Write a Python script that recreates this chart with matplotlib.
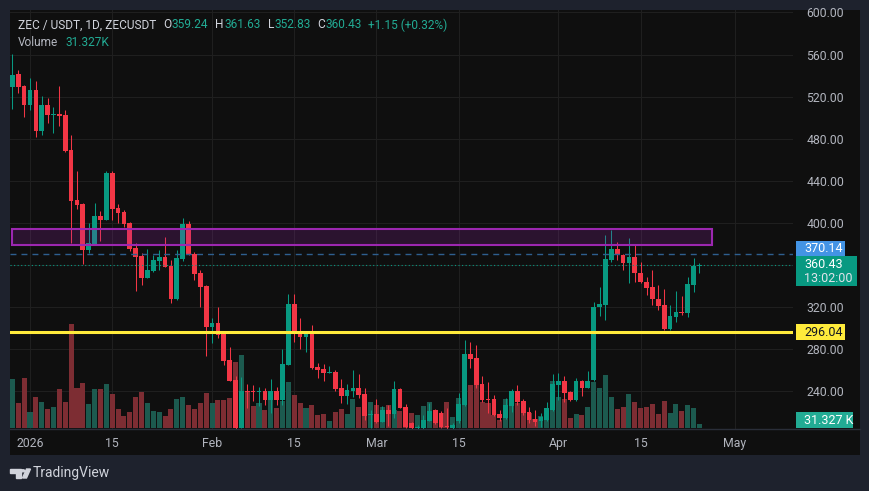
import numpy as np
import pandas as pd
import matplotlib
matplotlib.use('Agg')
import matplotlib.pyplot as plt
import matplotlib.dates as mdates
from matplotlib.patches import Rectangle, Polygon, Circle

plt.rcParams['font.family'] = ['Roboto', 'DejaVu Sans']

# ZEC/USDT daily candles, 2025-12-29 .. 2026-04-25
first_day = '2025-12-29'
opens = [529.4, 541.5, 530.1, 512.1, 526.3, 487.7, 512.1, 502.3, 503.5, 502.6,
         469.3, 421.8, 418.0, 374.4, 380.1, 406.6, 402.8, 447.2, 414.0, 410.4,
         400.0, 376.3, 368.7, 348.2, 354.7, 364.2, 367.7, 359.2, 327.8, 365.8,
         399.0, 370.6, 352.8, 340.2, 301.5, 304.7, 294.6, 269.9, 250.8, 205.6,
         240.5, 240.3, 239.7, 240.0, 232.3, 240.0, 231.5, 265.2, 323.1, 296.5,
         292.0, 295.7, 263.5, 261.4, 257.1, 258.5, 243.3, 235.7, 240.8, 243.3,
         237.6, 218.0, 218.6, 211.0, 222.4, 218.6, 242.4, 225.3, 209.8, 205.3,
         205.0, 212.3, 222.4, 219.3, 207.0, 205.5, 211.6, 227.2, 275.6, 271.8,
         247.1, 232.9, 232.9, 218.6, 214.8, 226.2, 240.5, 230.9, 220.5, 213.9,
         211.6, 212.9, 222.4, 246.2, 249.9, 239.5, 231.9, 249.9, 243.6, 250.4,
         320.0, 322.1, 364.9, 375.0, 369.6, 361.7, 367.4, 352.8, 344.3, 339.2,
         327.8, 322.1, 299.3, 311.0, 315.2, 314.8, 341.4, 359.24]
highs = [560.5, 545.3, 531.5, 537.4, 534.9, 520.6, 518.4, 509.9, 530.4, 507.3,
         483.6, 449.4, 418.7, 400.3, 418.7, 411.7, 449.4, 449.4, 418.0, 412.3,
         401.2, 380.7, 371.2, 375.3, 369.6, 374.4, 387.0, 364.9, 374.4, 404.5,
         401.9, 372.7, 355.4, 341.1, 309.4, 320.5, 295.2, 282.5, 254.6, 253.7,
         247.0, 246.2, 244.0, 243.4, 251.9, 243.8, 280.3, 332.6, 332.6, 309.8,
         296.2, 303.1, 267.0, 266.0, 264.2, 260.4, 251.9, 247.1, 260.4, 256.6,
         243.3, 222.4, 232.9, 225.9, 227.5, 249.9, 243.0, 228.1, 211.0, 208.5,
         217.7, 229.4, 223.0, 221.0, 224.0, 210.0, 238.2, 288.9, 287.0, 284.1,
         254.7, 249.0, 236.7, 222.4, 233.5, 242.0, 246.2, 232.9, 225.3, 222.4,
         219.6, 230.0, 256.6, 257.6, 254.7, 240.5, 252.8, 251.0, 259.5, 324.7,
         338.9, 388.6, 393.4, 381.7, 371.0, 385.5, 380.1, 363.3, 349.0, 355.4,
         341.1, 337.3, 322.1, 335.4, 330.7, 349.0, 366.5, 361.63]
lows = [508.3, 523.2, 501.0, 507.3, 482.0, 483.6, 495.2, 485.8, 492.4, 467.7,
        381.3, 413.3, 360.8, 371.8, 379.1, 383.2, 402.8, 402.8, 399.7, 396.5,
        373.7, 335.7, 341.1, 348.2, 353.2, 355.4, 357.9, 324.3, 326.9, 364.2,
        369.6, 345.9, 320.5, 274.0, 286.3, 290.5, 265.2, 249.5, 204.5, 205.0,
        224.0, 231.3, 225.9, 227.2, 219.9, 227.0, 227.2, 265.0, 287.3, 280.3,
        277.8, 261.3, 252.8, 249.9, 257.1, 240.8, 228.8, 228.2, 234.4, 233.5,
        212.9, 205.0, 210.3, 210.5, 207.0, 214.5, 224.0, 205.5, 204.8, 204.8,
        204.8, 211.5, 209.5, 205.0, 204.8, 204.8, 210.0, 226.0, 262.6, 243.0,
        230.3, 219.3, 217.0, 212.3, 213.5, 220.8, 227.2, 217.7, 210.3, 207.2,
        206.6, 212.0, 221.5, 231.9, 230.3, 231.0, 231.0, 236.0, 243.0, 249.5,
        311.7, 307.9, 363.3, 364.9, 355.4, 342.7, 344.3, 342.7, 331.6, 322.1,
        317.4, 298.4, 298.8, 306.3, 312.6, 311.0, 334.8, 352.83]
closes = [540.6, 529.4, 512.1, 526.3, 487.7, 512.1, 502.3, 503.5, 501.9, 468.7,
          421.2, 417.4, 374.4, 381.3, 406.6, 402.8, 447.2, 413.3, 409.8, 399.0,
          375.3, 368.0, 348.2, 355.4, 364.9, 367.7, 358.5, 327.8, 366.5, 399.0,
          370.6, 351.6, 339.5, 301.5, 304.7, 293.9, 269.2, 250.2, 205.6, 240.0,
          239.8, 239.7, 240.3, 232.3, 240.0, 231.7, 266.1, 323.1, 295.7, 292.0,
          295.7, 262.3, 260.4, 257.1, 258.8, 242.4, 235.7, 241.4, 243.3, 236.7,
          216.7, 218.5, 211.0, 222.4, 218.6, 242.4, 224.3, 206.6, 205.3, 206.5,
          212.9, 221.8, 210.3, 206.6, 206.0, 208.0, 228.1, 275.6, 271.1, 246.2,
          231.9, 231.6, 217.7, 214.8, 227.2, 240.5, 230.0, 219.6, 212.9, 211.0,
          216.0, 224.3, 247.1, 249.9, 238.6, 231.9, 249.9, 243.6, 249.9, 320.0,
          323.1, 365.5, 375.0, 369.6, 361.7, 367.4, 352.8, 344.3, 338.6, 327.5,
          321.5, 299.3, 311.7, 315.2, 314.8, 342.1, 359.5, 360.43]
volumes_k = [355.5, 182.5, 365.0, 116.8, 226.3, 189.8, 138.7, 153.3, 282.5, 189.8,
             757.0, 292.0, 328.5, 175.2, 282.5, 282.5, 321.2, 248.2, 138.7, 85.4,
             114.6, 224.1, 260.6, 180.3, 121.9, 114.6, 85.4, 136.5, 209.5, 224.1,
             165.7, 136.5, 180.3, 253.3, 180.3, 202.2, 202.2, 216.8, 479.6, 530.7,
             262.8, 158.4, 182.5, 129.2, 260.6, 146.0, 194.9, 333.6, 238.7, 180.3,
             143.8, 165.7, 92.7, 100.0, 48.9, 114.6, 136.5, 100.0, 209.5, 151.1,
             129.2, 187.6, 165.7, 151.1, 165.7, 129.2, 121.9, 143.8, 107.3, 92.7,
             158.4, 187.6, 129.2, 107.3, 187.6, 78.1, 216.8, 333.6, 311.7, 311.7,
             187.6, 180.3, 92.7, 56.2, 209.5, 158.4, 180.3, 107.3, 107.3, 63.5,
             85.4, 58.4, 340.9, 224.1, 209.5, 70.8, 100.0, 92.7, 151.1, 333.6,
             289.8, 384.7, 224.1, 136.5, 151.1, 246.0, 187.6, 143.8, 151.1, 173.0,
             100.0, 194.9, 107.3, 173.0, 121.9, 165.7, 143.8, 31.327]

# drawings on the chart
zone_low, zone_high = 379.1, 394.3
zone_start, zone_end = '2025-12-28 21:00', '2026-04-27 02:00'
support_level = 296.04
alert_level = 370.14
countdown = '13:02:00'
change_text = '+1.15 (+0.32%)'
volume_text = '31.327K'

time_ticks = ['2026-01-01', '2026-01-15', '2026-02-01', '2026-02-15', '2026-03-01',
              '2026-03-15', '2026-04-01', '2026-04-15', '2026-05-01']
time_labels = ['2026', '15', 'Feb', '15', 'Mar', '15', 'Apr', '15', 'May']
price_ticks = [240, 280, 320, 400, 440, 480, 520, 560, 600]
grid_prices = [240, 280, 320, 360, 400, 440, 480, 520, 560, 600]

GREEN = '#089981'
RED = '#f23645'
TXT = '#b2b5be'
W, H = 870, 491


def fx(px):
    return px / W


def fy(py):
    return 1 - py / H


opens = np.array(opens)
highs = np.array(highs)
lows = np.array(lows)
closes = np.array(closes)
volumes_k = np.array(volumes_k)
dates = pd.date_range(first_day, periods=len(opens), freq='D')
x = mdates.date2num(dates)
up = closes >= opens

fig = plt.figure(figsize=(W / 100, H / 100), dpi=100, facecolor='#1e222d')
fig.add_artist(Rectangle((fx(10), fy(455)), 850 / W, 445 / H, transform=fig.transFigure,
                         facecolor='#0f0f0f', edgecolor='none', zorder=-5))

pos = [fx(10), fy(428.5), 783 / W, 418.5 / H]
axv = fig.add_axes(pos)
ax = fig.add_axes(pos)
ax.set_facecolor('none')
axv.set_facecolor('#0f0f0f')

jan1 = mdates.date2num(pd.Timestamp('2026-01-01'))
px_per_day = 5.872
xlim = (jan1 - 20 / px_per_day, jan1 + 763 / px_per_day)
for a in (ax, axv):
    a.set_xlim(*xlim)
    for s in a.spines.values():
        s.set_visible(False)
ax.set_ylim(204.8, 602.3)
axv.set_ylim(-3.65, 3051)
axv.set_xticks([])
axv.set_yticks([])

# grid
tick_x = mdates.date2num(pd.to_datetime(time_ticks))
for t in tick_x:
    axv.axvline(t, color='#1f1f1f', lw=0.8, zorder=0)
for p in grid_prices:
    axv.plot([0, 1], [p, p], transform=ax.get_yaxis_transform(), color='#1f1f1f', lw=0.8, zorder=0)

# volume
vol_colors = np.where(up, '#1c5a4f', '#7d2d33')
axv.bar(x, volumes_k, width=0.86, color=vol_colors, zorder=1)

# candles
colors = np.where(up, GREEN, RED)
ax.vlines(x, lows, highs, colors=colors, linewidth=0.75, zorder=2)
body_low = np.minimum(opens, closes)
body_h = np.maximum(np.abs(closes - opens), 0.9)
ax.bar(x, body_h, width=0.8, bottom=body_low, color=colors, zorder=3)

# resistance zone and lines
zs = mdates.date2num(pd.Timestamp(zone_start))
ze = mdates.date2num(pd.Timestamp(zone_end))
ax.add_patch(Rectangle((zs, zone_low), ze - zs, zone_high - zone_low,
                       facecolor=(0.612, 0.153, 0.69, 0.2), edgecolor='#9c27b0',
                       linewidth=1.5, zorder=4))
ax.axhline(alert_level, color='#2e5f8f', lw=1.0, ls=(0, (4.3, 3.6)), zorder=4)
ax.axhline(closes[-1], color=GREEN, lw=0.8, ls=(0, (1, 2.2)), zorder=4)
ax.axhline(support_level, color='#ffeb3b', lw=2.2, zorder=5)

# axes labels
ax.set_xticks(tick_x)
ax.set_xticklabels(time_labels)
ax.tick_params(axis='x', length=0, pad=6, labelcolor=TXT, labelsize=8.8)
ax.yaxis.tick_right()
ax.set_yticks(price_ticks)
ax.set_yticklabels([f'{p:.2f}' for p in price_ticks])
ax.tick_params(axis='y', length=0, pad=9.6, labelcolor=TXT, labelsize=8.8)

# separators
fig.add_artist(plt.Line2D([fx(10), fx(860)], [fy(428.5), fy(428.5)], transform=fig.transFigure,
                          color='#2a2e39', lw=1))


def price_px(p):
    return H - ax.transData.transform((0, p))[1]


def tag(y_top, y_bot, x_right, bg):
    fig.add_artist(Rectangle((fx(796), fy(y_bot)), (x_right - 796) / W, (y_bot - y_top) / H,
                             transform=fig.transFigure, facecolor=bg, edgecolor='none', zorder=6))


ya = price_px(alert_level) - 5.7
tag(ya - 8, ya + 8, 845, '#4394e5')
fig.text(fx(804), fy(ya), f'{alert_level:.2f}', color='white', fontsize=9, va='center', zorder=7)

yl = price_px(closes[-1])
tag(yl - 8.7, yl + 21.7, 857, GREEN)
fig.text(fx(804), fy(yl), f'{closes[-1]:.2f}', color='white', fontsize=9, va='center', zorder=7)
fig.text(fx(804), fy(yl + 14.3), countdown, color='#e0e3eb', fontsize=9, va='center', zorder=7)

ys = price_px(support_level)
tag(ys - 8, ys + 8, 845, '#ffeb3b')
fig.text(fx(804), fy(ys), f'{support_level:.2f}', color='#131722', fontsize=9, va='center', zorder=7)

tag(412, 427.5, 853, '#22ab94')
fig.text(fx(804), fy(420), volume_text.replace('K', ' K'), color='white', fontsize=9, va='center', zorder=7)

# legend header, pieces chained left to right
hdr = dict(fontsize=8.6, va='center', ha='left')
prev = fig.text(fx(18), fy(25), 'ZEC / USDT, 1D, ZECUSDT', color='#d1d4dc', **hdr)


def chain(prev, s, color, gap):
    return ax.annotate(s, xy=(1, 0.5), xycoords=prev, xytext=(gap, 0),
                       textcoords='offset points', color=color, **hdr)


for lab, val in [('O', opens[-1]), ('H', highs[-1]), ('L', lows[-1]), ('C', closes[-1])]:
    prev = chain(prev, lab, '#d1d4dc', 5)
    prev = chain(prev, f'{val:.2f}', '#22ab94', 0.3)
chain(prev, change_text, '#22ab94', 4)
prev = fig.text(fx(18), fy(42), 'Volume', color=TXT, **hdr)
chain(prev, volume_text, '#22ab94', 5)

# TradingView logo
logo = '#d1d4dc'
fig.add_artist(Polygon([(fx(10), fy(469)), (fx(20.7), fy(469)), (fx(20.7), fy(478)), (fx(16.5), fy(478)),
                        (fx(16.5), fy(472.7)), (fx(10), fy(472.7))], closed=True,
                       transform=fig.transFigure, color=logo))
fig.add_artist(Circle((fx(23), fy(470.8)), 1.8 / W, transform=fig.transFigure, color=logo))
fig.add_artist(Polygon([(fx(22.5), fy(478)), (fx(26.5), fy(478)), (fx(30.5), fy(469)), (fx(26.5), fy(469))],
                       closed=True, transform=fig.transFigure, color=logo))
fig.text(fx(33), fy(473.5), 'TradingView', color=logo, fontsize=10, va='center')

fig.savefig('out.png', dpi=100, facecolor=fig.get_facecolor())
